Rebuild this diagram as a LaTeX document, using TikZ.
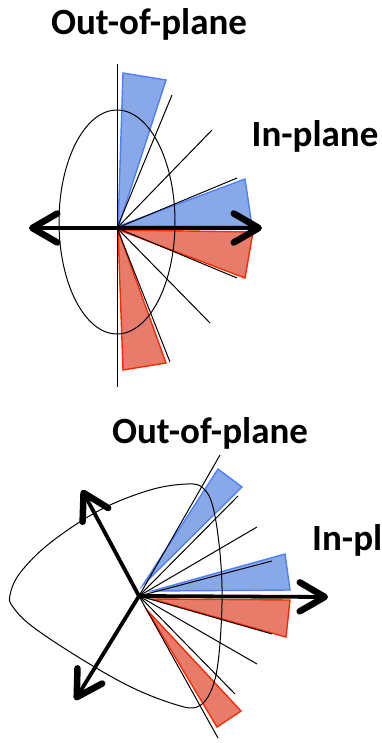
\documentclass[tikz,border=0pt]{standalone}
\usepackage{fontspec}
\setmainfont{Carlito}
\usetikzlibrary{arrows.meta}
\definecolor{bfill}{RGB}{137,168,232}
\definecolor{bdraw}{RGB}{77,128,255}
\definecolor{rfill}{RGB}{232,124,106}
\definecolor{rdraw}{RGB}{255,40,0}
\tikzset{
  lbl/.style={font=\bfseries\fontsize{37}{40}\selectfont, inner sep=0pt},
  bwedge/.style={fill=bfill, draw=bdraw, line width=1.4pt, line join=miter},
  rwedge/.style={fill=rfill, draw=rdraw, line width=1.4pt, line join=miter},
  thin/.style={line width=1pt},
  bigarrow/.style={line width=3.8pt, -{Straight Barb[length=25pt,width=29pt,line width=6.5pt 0,round]}}
}
\begin{document}
\begin{tikzpicture}[x=1pt,y=-1pt]
\useasboundingbox (0,0) rectangle (382,743);
% ---------- top panel ----------
\node[lbl, anchor=base] (oop1) at (149,35) {Out-of-plane};
\node[lbl, anchor=base] (ip1) at (315,147) {In-plane};
\coordinate (O1) at (117,228);
\draw[bwedge] (118,228) -- (123,73) -- (166,80) -- cycle;
\draw[bwedge] (119,226) -- (245,179) -- (252,226) -- cycle;
\draw[rwedge] (119,230) -- (253,232) -- (245,278) -- cycle;
\draw[rwedge] (118,230) -- (166,363) -- (123,370) -- cycle;
\draw[thin] (117,222) ellipse [x radius=58, y radius=112];
\coordinate (v1t) at (117,64);
\coordinate (v1b) at (117,387);
\draw[thin] (v1t) -- (v1b);
\foreach \p [count=\i] in {(172,95),(212,130),(237,178),(237,278),(210,323),(170,362)}
  \draw[thin] (O1) -- \p coordinate (t\i);
\coordinate (L1) at (29,228);
\coordinate (R1) at (262,228);
\draw[bigarrow] (O1) -- (L1);
\draw[bigarrow] (O1) -- (R1);
% ---------- bottom panel ----------
\node[lbl, anchor=base] (oop2) at (210,443) {Out-of-plane};
\node[lbl, anchor=base west] (ip2) at (312,550) {In-pl};
\coordinate (O2) at (139,596);
\draw[bwedge] (143,585) -- (218,469) -- (242,487) -- cycle;
\draw[bwedge] (152,591) -- (285,554) -- (290,590) -- cycle;
\draw[rwedge] (152,599) -- (290,600) -- (286,637) -- cycle;
\draw[rwedge] (147,610) -- (241,711) -- (217,727) -- cycle;
\draw[thin] plot[smooth cycle, tension=0.6] coordinates {
  (10,595) (20,573) (50,543) (100,510) (150,490) (187,484) (203,488) (213,507)
  (220,553) (222,603) (218,663) (210,693) (197,707) (177,705) (133,688)
  (83,660) (33,627) (13,607)};
\foreach \p [count=\i] in {(220,455),(238,496),(257,527),(272,561),(272,634),(257,664),(235,694),(218,738)}
  \draw[thin] (O2) -- \p coordinate (b\i);
\coordinate (R2) at (328,597);
\coordinate (U2) at (82,490);
\coordinate (D2) at (75,700);
\draw[bigarrow] (O2) -- (R2);
\draw[bigarrow] (O2) -- (U2);
\draw[bigarrow] (O2) -- (D2);
\end{tikzpicture}
\end{document}
